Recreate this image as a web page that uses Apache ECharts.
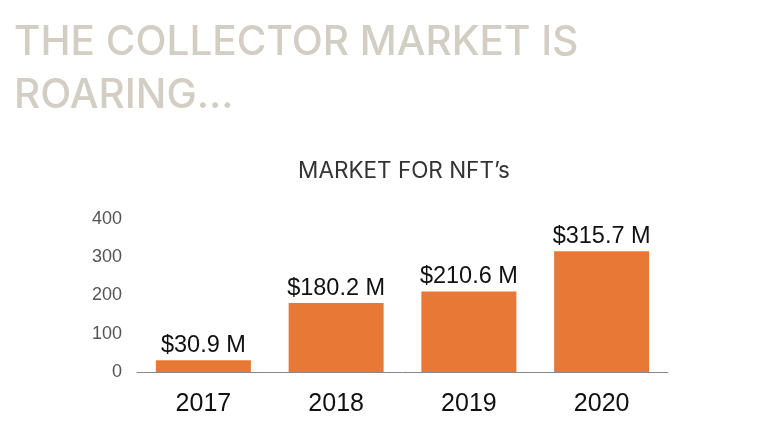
<!DOCTYPE html>
<html><head><meta charset="utf-8">
<script src="https://cdn.jsdelivr.net/npm/echarts@6/dist/echarts.min.js"></script>
<style>html,body{margin:0;padding:0;background:#fff}#c{width:768px;height:426px}</style>
</head><body><div id="c"></div>
<script>
const categories = ['2017', '2018', '2019', '2020'];
const values = [30.9, 180.2, 210.6, 315.7];
const valueLabels = ['$30.9 M', '$180.2 M', '$210.6 M', '$315.7 M'];
const yTicks = [0, 100, 200, 300, 400];
const headline = 'THE COLLECTOR MARKET IS\nROARING...';
const chartTitle = "MARKET FOR NFT\u2019s";

const chart = echarts.init(document.getElementById('c'));
chart.setOption({
  backgroundColor: '#fff',
  animation: false,
  title: [{
    text: headline, left: 9, top: 11, padding: 5,
    textStyle: {fontFamily: 'Inter', fontWeight: 500, fontSize: 40.5, lineHeight: 53, color: '#d3cec3'}
  }, {
    text: chartTitle, left: 399, top: 155, textAlign: 'center',
    textStyle: {fontFamily: 'Inter', fontWeight: 400, fontSize: 22.5, color: '#333'}
  }],
  grid: {left: 137, right: 100, top: 219, bottom: 54},
  xAxis: {
    type: 'category', data: categories,
    axisLine: {lineStyle: {color: '#888', width: 1}},
    axisTick: {show: false},
    axisLabel: {color: '#111', fontFamily: 'Liberation Sans', fontSize: 25, margin: 20}
  },
  yAxis: {
    type: 'value', min: yTicks[0], max: yTicks[yTicks.length - 1], interval: 100,
    splitLine: {show: false}, axisLine: {show: false}, axisTick: {show: false},
    axisLabel: {color: '#555', fontFamily: 'Liberation Sans', fontSize: 18, margin: 15, padding: [6, 0, 0, 0]}
  },
  series: [{
    type: 'bar', data: values, barWidth: 95,
    itemStyle: {color: '#e87835'},
    label: {
      show: true, position: 'top', distance: 3,
      formatter: p => valueLabels[p.dataIndex],
      color: '#111', fontFamily: 'Liberation Sans', fontSize: 23.5
    }
  }]
});
</script></body></html>
